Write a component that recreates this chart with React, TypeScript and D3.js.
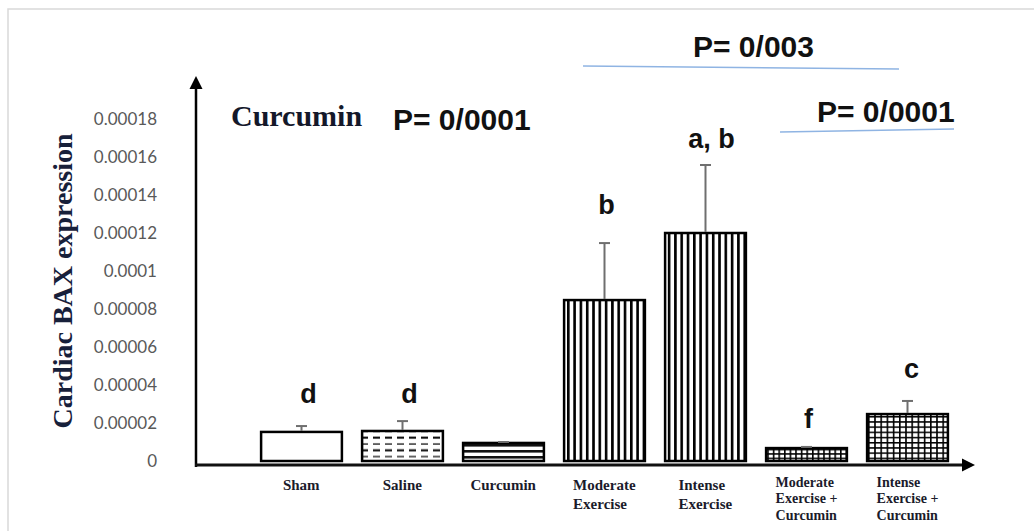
import React, { useEffect, useRef } from "react";
import * as d3 from "d3";

// ---- data ----
const categories = [
  "Sham",
  "Saline",
  "Curcumin",
  "Moderate Exercise",
  "Intense Exercise",
  "Moderate Exercise + Curcumin",
  "Intense Exercise + Curcumin",
];
const labelLines = [
  ["Sham"],
  ["Saline"],
  ["Curcumin"],
  ["Moderate", "Exercise"],
  ["Intense", "Exercise"],
  ["Moderate", "Exercise +", "Curcumin"],
  ["Intense", "Exercise +", "Curcumin"],
];
const means = [0.0000153, 0.0000158, 0.0000095, 0.0000847, 0.00012, 0.0000068, 0.0000247];
const errors = [0.0000031, 0.0000052, 0.0000005, 0.00003, 0.0000358, 0.0000006, 0.0000069];
const sigLetters = ["d", "d", "", "b", "a, b", "f", "c"];
const sigLetterValues = [0.0000305, 0.0000305, 0, 0.00013, 0.0001647, 0.0000174, 0.0000437];
const patterns = ["none", "dash", "hstripe", "vstripe", "vstripe", "gridSmall", "gridLarge"];
const tickLabels = [
  "0",
  "0.00002",
  "0.00004",
  "0.00006",
  "0.00008",
  "0.0001",
  "0.00012",
  "0.00014",
  "0.00016",
  "0.00018",
];
const yTitle = "Cardiac BAX expression";

const W = 1034;
const H = 531;

export default function App() {
  const labelsRef = useRef<SVGGElement | null>(null);

  const x = d3.scaleBand<string>().domain(categories).range([251, 958]).paddingInner(0.2).paddingOuter(0.1);
  const y = d3.scaleLinear().domain([0, 0.00018]).range([461, 119]);
  const bw = x.bandwidth();

  useEffect(() => {
    if (!labelsRef.current) return;
    const g = d3.select(labelsRef.current);
    g.selectAll("*").remove();
    categories.forEach((c, i) => {
      const lines = labelLines[i];
      const multi3 = lines.length === 3;
      const fs = multi3 ? 14 : 15;
      const lh = multi3 ? 16.5 : 19;
      const y0 = multi3 ? 486.5 : 490;
      const cx = (x(c) as number) + bw / 2;
      const t = g
        .append("text")
        .attr("font-family", "'Liberation Serif', serif")
        .attr("font-weight", "bold")
        .attr("font-size", fs)
        .attr("fill", "#1b1b2b");
      lines.forEach((ln, j) => {
        t.append("tspan").attr("x", 0).attr("y", y0 + j * lh).text(ln);
      });
      const w = (t.node() as SVGTextElement).getBBox().width;
      t.attr("transform", `translate(${cx - w / 2},0)`);
    });
  }, []);

  const boldSans = "'Liberation Sans', Arial, sans-serif";

  return (
    <svg
      width={W}
      height={H}
      style={{ position: "absolute", left: 0, top: 0, background: "#fff" }}
    >
      <defs>
        <pattern id="dash" patternUnits="userSpaceOnUse" width="12" height="12.6">
          <rect width="12" height="12.6" fill="#fff" />
          <line x1="1" x2="8" y1="3" y2="3" stroke="#000" strokeWidth="1.2" />
          <line x1="1" x2="8" y1="9.3" y2="9.3" stroke="#000" strokeWidth="2" />
        </pattern>
        <pattern id="hstripe" patternUnits="userSpaceOnUse" width="10" height="6">
          <rect width="10" height="6" fill="#fff" />
          <rect y="0" width="10" height="2.6" fill="#111" />
        </pattern>
        <pattern id="vstripe" patternUnits="userSpaceOnUse" width="6.3" height="10">
          <rect width="6.3" height="10" fill="#fff" />
          <rect x="0" width="2.6" height="10" fill="#000" />
        </pattern>
        <pattern id="gridSmall" patternUnits="userSpaceOnUse" width="5.6" height="4.4">
          <rect width="5.6" height="4.4" fill="#fff" />
          <rect x="0" width="1.6" height="4.4" fill="#000" />
          <rect y="0" width="5.6" height="1.5" fill="#000" />
        </pattern>
        <pattern id="gridLarge" patternUnits="userSpaceOnUse" width="6.2" height="5.2">
          <rect width="6.2" height="5.2" fill="#fff" />
          <rect x="0" width="1.6" height="5.2" fill="#000" />
          <rect y="0" width="6.2" height="1.5" fill="#000" />
        </pattern>
      </defs>

      {/* frame */}
      <path d={`M8,${H} V9 H${W}`} fill="none" stroke="#d9d9d9" strokeWidth={1.5} />

      {/* y tick labels */}
      {tickLabels.map((t) => (
        <text
          key={t}
          x={157}
          y={y(parseFloat(t))}
          dy="0.35em"
          textAnchor="end"
          fontFamily="Lato, 'Open Sans', sans-serif"
          fontSize={17}
          fill="#595959"
        >
          {t}
        </text>
      ))}

      {/* y title */}
      <text
        transform="translate(72,281) rotate(-90)"
        textAnchor="middle"
        fontFamily="'Liberation Serif', serif"
        fontWeight="bold"
        fontSize={28}
        fill="#17203a"
      >
        {yTitle}
      </text>

      {/* bars */}
      {categories.map((c, i) => {
        const x0 = x(c) as number;
        const p = patterns[i];
        return (
          <g key={c}>
            <rect
              x={x0}
              y={y(means[i])}
              width={bw}
              height={y(0) - y(means[i])}
              fill={p === "none" ? "#fff" : `url(#${p})`}
              stroke="#000"
              strokeWidth={2.5}
            />
          </g>
        );
      })}

      {/* error bars */}
      {categories.map((c, i) => {
        const cx = (x(c) as number) + bw / 2;
        const top = y(means[i] + errors[i]);
        return (
          <g key={c + "e"} stroke="#6f6f6f" strokeWidth={2}>
            <line x1={cx} x2={cx} y1={y(means[i]) - 1} y2={top} />
            <line x1={cx - 5.5} x2={cx + 5.5} y1={top} y2={top} />
          </g>
        );
      })}

      {/* significance letters */}
      {categories.map((c, i) =>
        sigLetters[i] ? (
          <text
            key={c + "s"}
            x={(x(c) as number) + bw / 2 + (i < 2 ? 7 : i === 4 ? 6 : i === 6 ? 4 : 2)}
            y={y(sigLetterValues[i])}
            textAnchor="middle"
            fontFamily={boldSans}
            fontWeight="bold"
            fontSize={27}
            fill="#111"
          >
            {sigLetters[i]}
          </text>
        ) : null
      )}

      {/* axes */}
      <line x1={196} x2={196} y1={467} y2={86} stroke="#000" strokeWidth={2.5} />
      <path d="M196,76 L189.5,89 L202.5,89 Z" fill="#000" />
      <line x1={195} x2={964} y1={465} y2={465} stroke="#111" strokeWidth={3} />
      <path d="M975,465 L962,458.5 L962,471.5 Z" fill="#000" />

      {/* x labels */}
      <g ref={labelsRef} />

      {/* annotations */}
      <text x={231} y={126} fontFamily="'Liberation Serif', serif" fontWeight="bold" fontSize={30} fill="#14182a">
        Curcumin
      </text>
      <text x={393} y={130} fontFamily={boldSans} fontWeight="bold" fontSize={30} fill="#111">
        P= 0/0001
      </text>
      <text x={693} y={57} fontFamily={boldSans} fontWeight="bold" fontSize={30} fill="#111">
        P= 0/003
      </text>
      <line x1={583} y1={66} x2={899} y2={69} stroke="#8fb4e3" strokeWidth={1.5} />
      <text x={817} y={122} fontFamily={boldSans} fontWeight="bold" fontSize={30} fill="#111">
        P= 0/0001
      </text>
      <line x1={780} y1={132} x2={954} y2={129} stroke="#8fb4e3" strokeWidth={1.5} />
    </svg>
  );
}
